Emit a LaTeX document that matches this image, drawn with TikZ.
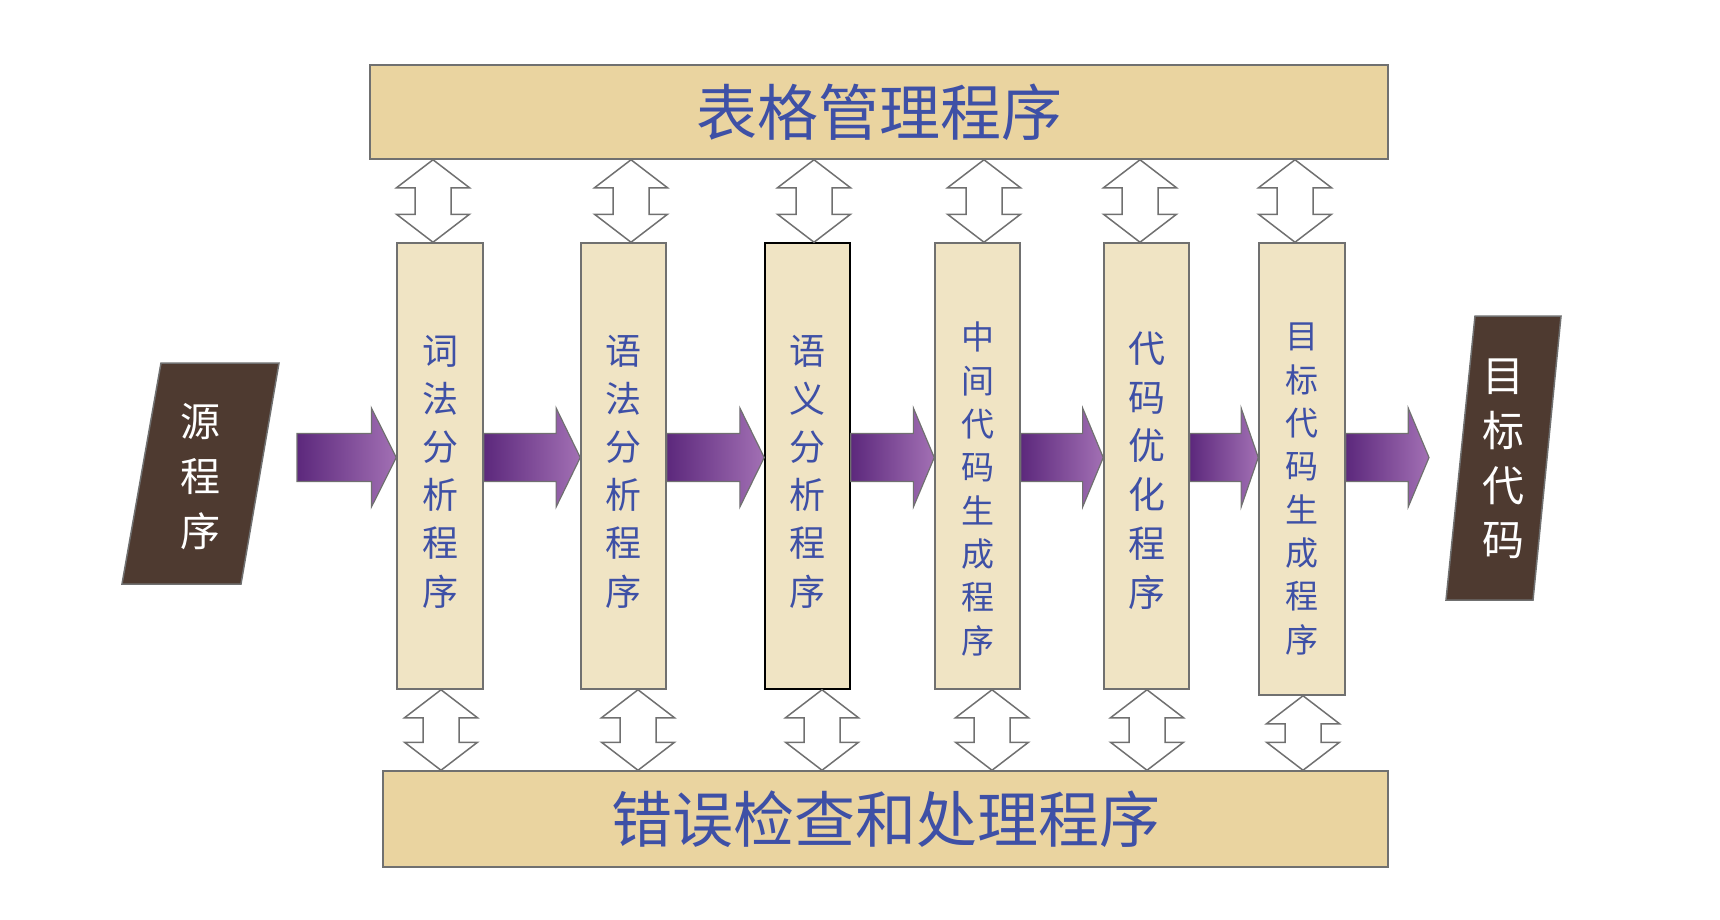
\documentclass[tikz,border=0pt]{standalone}
\usepackage{fontspec}
\newfontfamily\cjk{Noto Sans CJK SC}
\usepackage{xcolor}
\usepackage{tikz}
\usetikzlibrary{calc,positioning}

\definecolor{paper}{RGB}{240,228,196}
\definecolor{barpaper}{RGB}{234,212,160}
\definecolor{marble}{RGB}{78,58,48}
\definecolor{inkblue}{RGB}{62,80,166}
\definecolor{edgegray}{RGB}{112,112,112}
\definecolor{plumdark}{RGB}{92,40,124}
\definecolor{plumlight}{RGB}{162,112,180}

\tikzset{
  stage/.style={draw=edgegray, line width=1.5pt, fill=paper, minimum width=86pt, minimum height=446pt, inner sep=0pt},
  stagetext/.style={text=inkblue, align=center, font=\cjk\fontsize{36}{48.2}\selectfont},
  bar/.style={draw=edgegray, line width=1.5pt, fill=barpaper, inner sep=0pt, text=inkblue, font=\cjk\fontsize{61}{61}\selectfont},
  stone/.style={draw=edgegray, line width=1.5pt, fill=marble},
  stonetext/.style={text=white, align=center, font=\cjk\fontsize{40}{55}\selectfont},
  flow/.style={draw=edgegray, line width=1.2pt, left color=plumdark, right color=plumlight},
  link/.style={draw=edgegray, line width=1.5pt, fill=white}
}

% block arrow from #1 to its tip #2 (same height)
\newcommand{\flowarrow}[2]{%
  \draw[flow] ($(#1)+(0,-24)$) -- ($(#1)!0.75!(#2)+(0,-24)$) -- ($(#1)!0.75!(#2)+(0,-49.5)$)
    -- (#2) -- ($(#1)!0.75!(#2)+(0,49.5)$) -- ($(#1)!0.75!(#2)+(0,24)$) -- ($(#1)+(0,24)$) -- cycle;}

% two-headed arrow at x=#1 between node #2 (above) and node #3 (below)
\newcommand{\linkarrow}[3]{%
  \coordinate (la) at (#1,0 |- #2.south);
  \coordinate (lb) at (#1,0 |- #3.north);
  \draw[link] (la) -- ($(la)+(36.5,28)$) -- ($(la)+(18,28)$) -- ($(lb)+(18,-28)$) -- ($(lb)+(36.5,-28)$)
    -- (lb) -- ($(lb)+(-36.5,-28)$) -- ($(lb)+(-18,-28)$) -- ($(la)+(-18,28)$) -- ($(la)+(-36.5,28)$) -- cycle;}

\begin{document}
\begin{tikzpicture}[x=1pt,y=-1pt]
    \useasboundingbox (0,0) rectangle (1720,919);

    % Tables and errors
    \node[bar, minimum width=1018pt, minimum height=94pt] (tbl) at (879,112) {表格管理程序};
    \node[bar, minimum width=1005pt, minimum height=96pt] (err) at (885.5,819) {错误检查和处理程序};

    % Phases
    \node[stage] (c1) at (440,466) {};
    \node[stage, minimum width=85pt] (c2) at (623.5,466) {};
    \node[stage, minimum width=85pt, draw=black] (c3) at (807.5,466) {};
    \node[stage, minimum width=85pt] (c4) at (977.5,466) {};
    \node[stage, minimum width=85pt] (c5) at (1146.5,466) {};
    \node[stage, minimum height=452pt] (c6) at (1302,469) {};

    \node[stagetext] (c1t) at (440,471.5) {词\\法\\分\\析\\程\\序};
    \node[stagetext] (c2t) at (623.5,471.5) {语\\法\\分\\析\\程\\序};
    \node[stagetext] (c3t) at (807.5,471.5) {语\\义\\分\\析\\程\\序};
    \node[stagetext, font=\cjk\fontsize{33}{43.3}\selectfont] (c4t) at (977.5,489) {中\\间\\代\\码\\生\\成\\程\\序};
    \node[stagetext, font=\cjk\fontsize{37}{48.8}\selectfont] (c5t) at (1146.5,470.5) {代\\码\\优\\化\\程\\序};
    \node[stagetext, font=\cjk\fontsize{33}{43.3}\selectfont] (c6t) at (1302,489) {目\\标\\代\\码\\生\\成\\程\\序};

    % Source and target
    \draw[stone] (161,363) -- (279,363) -- (241,584) -- (122,584) -- cycle;
    \node[stonetext] (src) at (200,477) {源\\程\\序};
    \draw[stone] (1475,316) -- (1561,316) -- (1533,600) -- (1446,600) -- cycle;
    \node[stonetext, font=\cjk\fontsize{42}{54.7}\selectfont] (dst) at (1503,459) {目\\标\\代\\码};

    % Flow
    \coordinate (f0) at (297,457.5);
    \coordinate (f7) at (1429,457.5);
    \flowarrow{f0}{c1.west |- f0}
    \flowarrow{c1.east |- f0}{c2.west |- f0}
    \flowarrow{c2.east |- f0}{c3.west |- f0}
    \flowarrow{c3.east |- f0}{c4.west |- f0}
    \flowarrow{c4.east |- f0}{c5.west |- f0}
    \flowarrow{c5.east |- f0}{c6.west |- f0}
    \flowarrow{c6.east |- f0}{f7}

    % Links to the table manager
    \linkarrow{433}{tbl}{c1}
    \linkarrow{631}{tbl}{c2}
    \linkarrow{814}{tbl}{c3}
    \linkarrow{984}{tbl}{c4}
    \linkarrow{1140}{tbl}{c5}
    \linkarrow{1295}{tbl}{c6}

    % Links to the error handler
    \linkarrow{441}{c1}{err}
    \linkarrow{638}{c2}{err}
    \linkarrow{822}{c3}{err}
    \linkarrow{992}{c4}{err}
    \linkarrow{1147}{c5}{err}
    \linkarrow{1303}{c6}{err}
\end{tikzpicture}
\end{document}
